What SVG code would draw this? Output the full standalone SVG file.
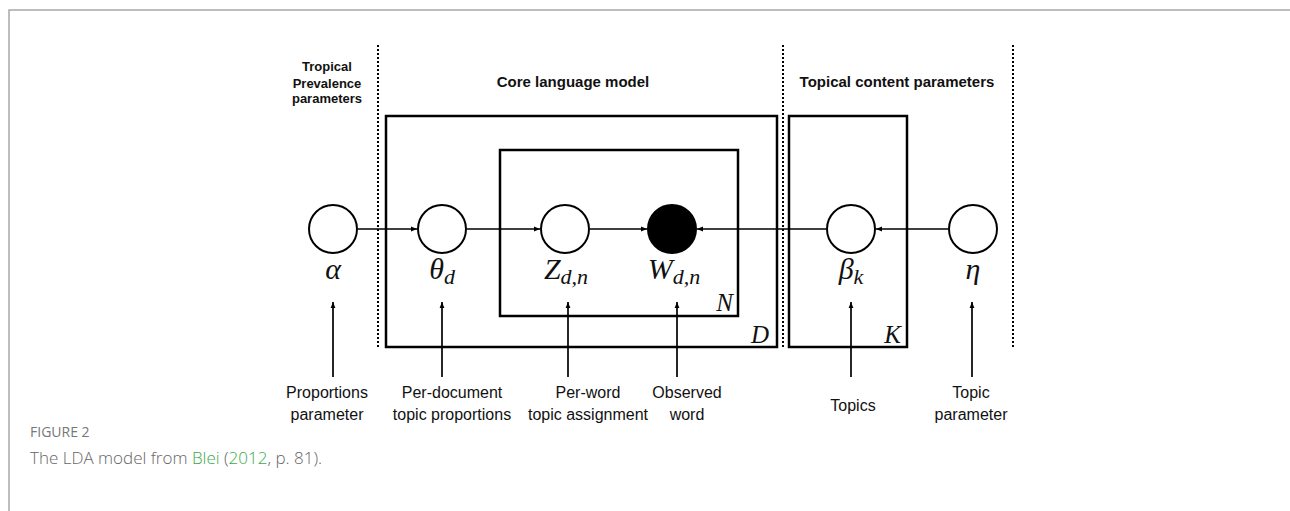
<svg xmlns="http://www.w3.org/2000/svg" width="1290" height="511" viewBox="0 0 1290 511">
<defs>
<style>
.frame{fill:none;stroke:#a8a8a8;stroke-width:1.5}
.dot{stroke:#000;stroke-width:2;stroke-dasharray:2 2;fill:none}
.plate{fill:none;stroke:#000;stroke-width:2.5}
.node{fill:#fff;stroke:#000;stroke-width:2}
.obs{fill:#000;stroke:#000;stroke-width:2}
.edge{stroke:#000;stroke-width:1.7;fill:none;marker-end:url(#ah)}
.hdr{font-family:"Liberation Sans",Arial,sans-serif;font-weight:bold;font-size:15px;fill:#111;text-anchor:middle}
.hdrs{font-size:13px}
.lbl{font-family:"Liberation Sans",Arial,sans-serif;font-size:16px;fill:#111;text-anchor:middle}
.math{font-family:"Liberation Serif","DejaVu Serif",serif;font-style:italic;font-size:30px;fill:#111;text-anchor:middle}
.sub{font-size:22px}
.pl{font-family:"Liberation Serif","DejaVu Serif",serif;font-style:italic;font-size:25px;fill:#111;text-anchor:end}
.cap1{font-family:"Open Sans","Liberation Sans",sans-serif;font-size:14px;fill:#777}
.cap2{font-family:"Open Sans","Liberation Sans",sans-serif;font-size:17px;fill:#666;font-weight:300}
.link{fill:#3aaa48}
</style>
<marker id="ah" viewBox="0 0 10 10" refX="10" refY="5" markerWidth="6" markerHeight="6" orient="auto" markerUnits="userSpaceOnUse">
<path d="M0,1 L10,5 L0,9 Z" fill="#000"/>
</marker>
</defs>
<rect width="1290" height="511" fill="#fff"/>
<path class="frame" d="M9,511 V10 H1290"/>

<g id="dividers">
<line class="dot" x1="378" y1="45" x2="378" y2="348"/>
<line class="dot" x1="783" y1="45" x2="783" y2="348"/>
<line class="dot" x1="1013" y1="45" x2="1013" y2="348"/>
</g>

<g id="headers">
<text class="hdr hdrs" x="327" y="71">Tropical</text>
<text class="hdr hdrs" x="327" y="87.5">Prevalence</text>
<text class="hdr hdrs" x="327" y="103">parameters</text>
<text class="hdr" x="573" y="87">Core language model</text>
<text class="hdr" x="897" y="87">Topical content parameters</text>
</g>

<g id="plates">
<rect id="plate-D" class="plate" x="386" y="116" width="391" height="231"/>
<rect id="plate-N" class="plate" x="500" y="150" width="238" height="166"/>
<rect id="plate-K" class="plate" x="789" y="116" width="118" height="231"/>
<text class="pl" x="733" y="311">N</text>
<text class="pl" x="769" y="343">D</text>
<text class="pl" x="901" y="343">K</text>
</g>

<g id="connectors">
<line class="edge" x1="358" y1="229" x2="417" y2="229"/>
<line class="edge" x1="467" y1="229" x2="540" y2="229"/>
<line class="edge" x1="590" y1="229" x2="647" y2="229"/>
<line class="edge" x1="826" y1="229" x2="697" y2="229"/>
<line class="edge" x1="948" y1="229" x2="876" y2="229"/>
<line class="edge" x1="333" y1="377" x2="333" y2="302"/>
<line class="edge" x1="442" y1="377" x2="442" y2="302"/>
<line class="edge" x1="568" y1="377" x2="568" y2="302"/>
<line class="edge" x1="677" y1="377" x2="677" y2="302"/>
<line class="edge" x1="851" y1="377" x2="851" y2="302"/>
<line class="edge" x1="972" y1="377" x2="972" y2="302"/>
</g>

<g id="node-alpha">
<circle class="node" cx="333" cy="229" r="24"/>
<text class="math" x="333" y="279">α</text>
</g>
<g id="node-theta">
<circle class="node" cx="442" cy="229" r="24"/>
<text class="math" x="442" y="279">θ<tspan class="sub" dy="5">d</tspan></text>
</g>
<g id="node-z">
<circle class="node" cx="565" cy="229" r="24"/>
<text class="math" x="566" y="279">Z<tspan class="sub" dy="5">d,n</tspan></text>
</g>
<g id="node-w">
<circle class="obs" cx="672" cy="229" r="24"/>
<text class="math" x="674" y="279">W<tspan class="sub" dy="5">d,n</tspan></text>
</g>
<g id="node-beta">
<circle class="node" cx="851" cy="229" r="24"/>
<text class="math" x="851" y="279">β<tspan class="sub" dy="5">k</tspan></text>
</g>
<g id="node-eta">
<circle class="node" cx="973" cy="229" r="24"/>
<text class="math" x="973" y="279">η</text>
</g>

<g id="descriptions">
<text class="lbl" x="327" y="398">Proportions</text>
<text class="lbl" x="327" y="420">parameter</text>
<text class="lbl" x="452" y="398">Per-document</text>
<text class="lbl" x="452" y="420">topic proportions</text>
<text class="lbl" x="588" y="398">Per-word</text>
<text class="lbl" x="588" y="420">topic assignment</text>
<text class="lbl" x="687" y="398">Observed</text>
<text class="lbl" x="687" y="420">word</text>
<text class="lbl" x="853" y="411">Topics</text>
<text class="lbl" x="971" y="398">Topic</text>
<text class="lbl" x="971" y="420">parameter</text>
</g>

<g id="caption">
<text class="cap1" x="30" y="437">FIGURE 2</text>
<text class="cap2" x="30" y="464">The LDA model from <tspan class="link">Blei</tspan> (<tspan class="link">2012</tspan>, p. 81).</text>
</g>
</svg>
